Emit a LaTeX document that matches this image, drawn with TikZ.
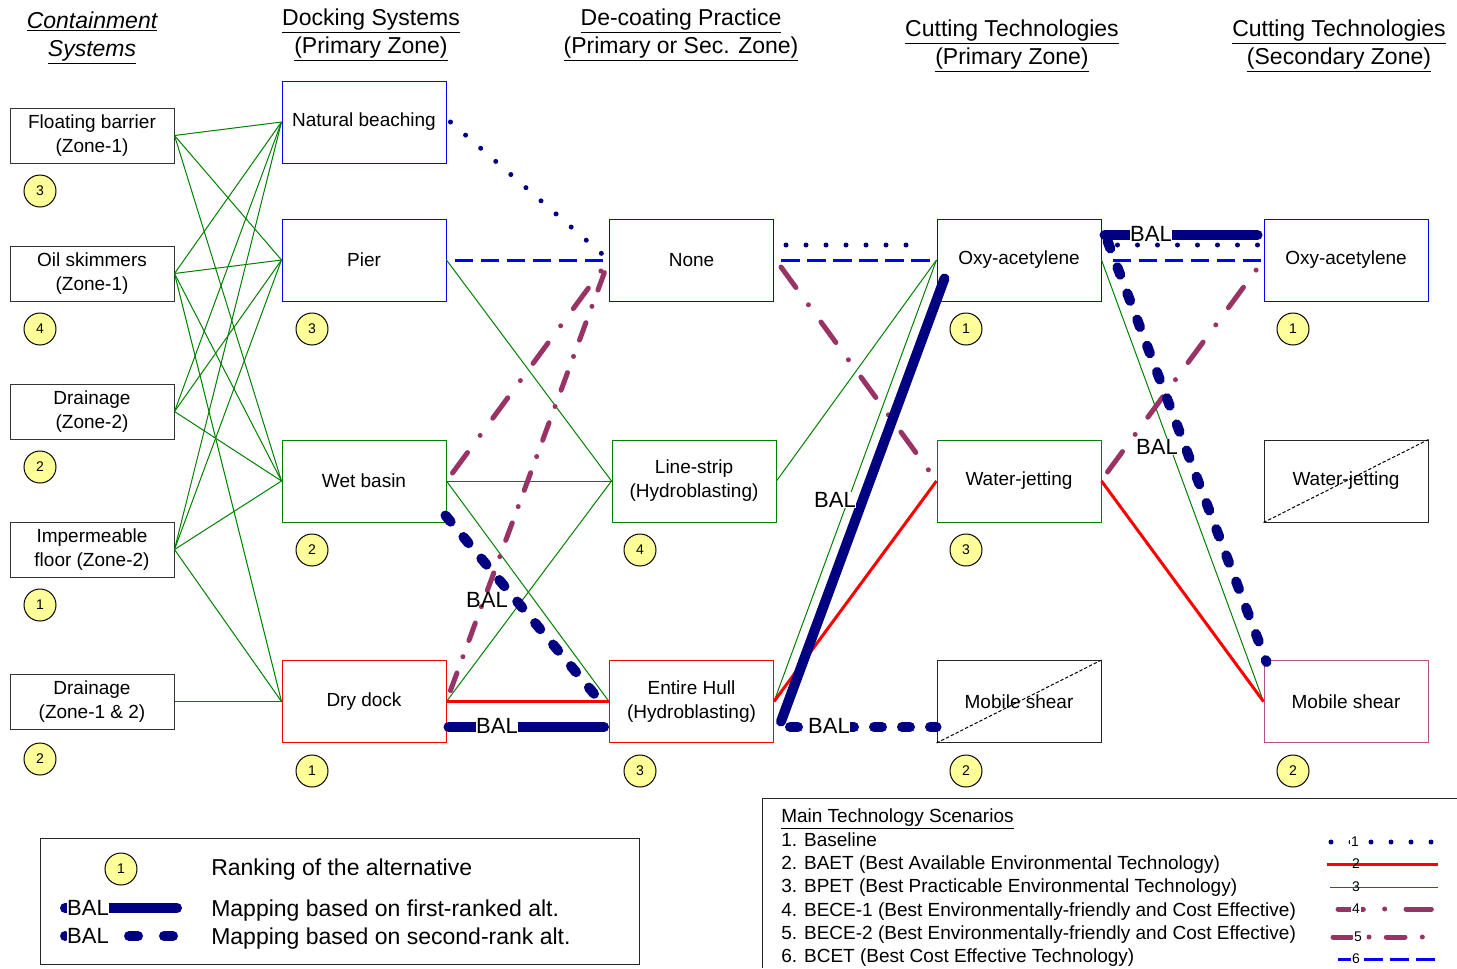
\documentclass[tikz,border=0pt]{standalone}
\usepackage{fontspec}
\setmainfont{Liberation Sans}
\usetikzlibrary{calc}
\definecolor{navyc}{HTML}{000080}
\definecolor{bluec}{HTML}{0000FF}
\definecolor{greenc}{HTML}{008000}
\definecolor{redc}{HTML}{FF0000}
\definecolor{magc}{HTML}{993366}
\definecolor{pinkc}{HTML}{B4508C}
\definecolor{rankc}{HTML}{FFFF99}
\begin{document}
\begin{tikzpicture}[x=0.75pt,y=-0.75pt,
  box/.style={draw, line width=0.75pt, minimum width=123pt, minimum height=61.5pt, align=center, inner sep=0pt, font=\fontsize{14.25}{18}\selectfont},
  cbox/.style={box, draw=black!80, minimum height=41.25pt},
  rank/.style={circle, draw=black, line width=0.75pt, fill=rankc, minimum size=24pt, inner sep=0pt, font=\fontsize{10.5}{12}\selectfont},
  head/.style={align=center, font=\fontsize{17.25}{21.5}\selectfont},
  s1/.style={navyc, line width=3.75pt, line cap=round, dash pattern=on 0pt off 15pt},
  s2/.style={redc, line width=2.25pt},
  s3/.style={greenc, line width=0.75pt},
  s4/.style={magc, line width=3.75pt, line cap=round, dash pattern=on 19pt off 16pt on 0pt off 16pt},
  s5/.style={magc, line width=3.75pt, line cap=round, dash pattern=on 14pt off 13pt on 0pt off 13pt},
  s6/.style={bluec, line width=2.25pt, dash pattern=on 14pt off 5.5pt},
  balone/.style={navyc, line width=7.5pt, line cap=round},
  baltwo/.style={navyc, line width=7.5pt, line cap=round, dash pattern=on 6pt off 15pt},
  ballab/.style={fill=white, inner sep=0.5pt, font=\fontsize{16.5}{18}\selectfont},
  cross/.style={black, line width=0.75pt, dash pattern=on 2.5pt off 1.5pt},
  legtxt/.style={anchor=base west, inner sep=0pt, font=\fontsize{14.25}{18}\selectfont},
  legbig/.style={anchor=base west, inner sep=0pt, font=\fontsize{17.25}{20}\selectfont},
  numlab/.style={fill=white, inner sep=0.6pt, font=\fontsize{10.5}{12}\selectfont}
]
\useasboundingbox (0,0) rectangle (1457,968);

% headers
\node[head] (h1) at (92,38) {\textit{\underline{Containment}}\\\textit{\underline{Systems}}};
\node[head] (h2) at (371,35) {\underline{Docking Systems}\\\underline{(Primary Zone)}};
\node[head] (h3) at (681,35) {\underline{De-coating Practice}\\\underline{(Primary or Sec. Zone)}};
\node[head] (h4) at (1012,46) {\underline{Cutting Technologies}\\\underline{(Primary Zone)}};
\node[head] (h5) at (1339,46) {\underline{Cutting Technologies}\\\underline{(Secondary Zone)}};

% column 1
\node[cbox] (FB) at (92,135.5) {Floating barrier\\(Zone-1)};
\node[cbox] (OS) at (92,273.5) {Oil skimmers\\(Zone-1)};
\node[cbox] (DrA) at (92,411.5) {Drainage\\(Zone-2)};
\node[cbox] (IF) at (92,549.5) {Impermeable\\floor (Zone-2)};
\node[cbox] (DrB) at (92,701.5) {Drainage\\(Zone-1 \& 2)};
% column 2
\node[box, draw=bluec] (NB) at (364,122) {Natural beaching};
\node[box, draw=bluec] (Pier) at (364,260) {Pier};
\node[box, draw=greenc] (WB) at (364,481) {Wet basin};
\node[box, draw=redc] (DD) at (364,701.5) {Dry dock};
% column 3
\node[box, draw=bluec] (None) at (691.5,260) {None};
\node[box, draw=greenc] (LS) at (694,481) {Line-strip\\(Hydroblasting)};
\node[box, draw=redc] (EH) at (691.5,701.5) {Entire Hull\\(Hydroblasting)};
% column 4
\node[box, draw=bluec] (OxyA) at (1019,260) {Oxy-acetylene};
\node[box, draw=greenc] (WJA) at (1019,481) {Water-jetting};
\node[box, draw=black!85] (MSA) at (1019,701.5) {Mobile shear};
% column 5
\node[box, draw=bluec] (OxyB) at (1346,260) {Oxy-acetylene};
\node[box, draw=black!85] (WJB) at (1346,481) {Water-jetting};
\node[box, draw=pinkc] (MSB) at (1346,701.5) {Mobile shear};

\draw[cross] (MSA.south west) -- (MSA.north east);
\draw[cross] (WJB.south west) -- (WJB.north east);

% rank circles
\node[rank] (rFB) at (40,191) {3};
\node[rank] (rOS) at (40,329) {4};
\node[rank] (rDrA) at (40,467) {2};
\node[rank] (rIF) at (40,605) {1};
\node[rank] (rDrB) at (40,759) {2};
\node[rank] (rPier) at (312,329) {3};
\node[rank] (rWB) at (312,550) {2};
\node[rank] (rDD) at (312,771) {1};
\node[rank] (rLS) at (640,550) {4};
\node[rank] (rEH) at (640,771) {3};
\node[rank] (rOxyA) at (966,329) {1};
\node[rank] (rWJA) at (966,550) {3};
\node[rank] (rMSA) at (966,771) {2};
\node[rank] (rOxyB) at (1293,329) {1};
\node[rank] (rMSB) at (1293,771) {2};

% containment -> docking (BPET)
\foreach \t in {NB,Pier,WB} \draw[s3] (FB.east) -- (\t.west);
\foreach \t in {NB,Pier,WB,DD} \draw[s3] (OS.east) -- (\t.west);
\foreach \t in {NB,Pier,WB} \draw[s3] (DrA.east) -- (\t.west);
\foreach \t in {NB,Pier,WB,DD} \draw[s3] (IF.east) -- (\t.west);
\draw[s3] (DrB.east) -- (DD.west);

% docking -> de-coating
\draw[s3] (Pier.east) -- (LS.west);
\draw[s3] (WB.east) -- (LS.west);
\draw[s3] (WB.east) -- (EH.west);
\draw[s3] (DD.east) -- (LS.west);
\draw[s2] (DD.east) -- (EH.west);
\draw[s1] ($(NB.east)+(4,0)$) -- (None.west);
\draw[s6] ($(Pier.east)+(8,0)$) -- (None.west);
\draw[s4] ($(WB.east)+(6,-8)$) -- (None.west);
\draw[s5] ($(DD.east)+(4,-11)$) -- (None.west);
\draw[baltwo] ($(WB.south east)+(-1,-7)$) -- ($(EH.west)+(-6,3)$);
\draw[balone] ($(DD.east)+(2,25.5)$) -- ($(EH.west)+(-5,25.5)$);
\node[ballab, fill=none] (balA) at (487,600) {BAL};
\node[ballab] (balB) at (497,726) {BAL};

% de-coating -> cutting primary
\draw[s3] (LS.east) -- (OxyA.west);
\draw[s3] (EH.east) -- (OxyA.west);
\draw[s2] (EH.east) -- (WJA.west);
\draw[s1] ($(None.east)+(12,-15)$) -- ($(OxyA.west)+(-22,-15)$);
\draw[s6] ($(None.east)+(7,0)$) -- (OxyA.west);
\draw[s4] ($(None.east)+(7,7)$) -- (WJA.west);
\draw[balone] ($(EH.east)+(7,20)$) -- ($(OxyA.south west)+(8,-23)$);
\draw[baltwo] ($(EH.east)+(16,25.5)$) -- ($(MSA.west)+(0,25.5)$);
\node[ballab] (balC) at (835,500) {BAL};
\node[ballab] (balD) at (829,726) {BAL};

% cutting primary -> secondary
\draw[s3] (OxyA.east) -- (MSB.west);
\draw[s2] (WJA.east) -- (MSB.west);
\draw[s1] ($(OxyA.east)+(16,-15)$) -- ($(OxyB.west)+(0,-15)$);
\draw[s6] ($(OxyA.east)+(11,0)$) -- (OxyB.west);
\draw[s4] ($(WJA.east)+(6,-9)$) -- (OxyB.west);
\draw[balone] ($(OxyA.east)+(3,-25)$) -- ($(OxyB.west)+(-6,-25)$);
\draw[baltwo] ($(OxyA.east)+(6,-19)$) -- ($(MSB.north west)+(3,2)$);
\node[ballab] (balE) at (1151,234) {BAL};
\node[ballab] (balF) at (1157,447) {BAL};

% legend left
\node[draw=black!85, line width=0.75pt, minimum width=449.25pt, minimum height=94.5pt, inner sep=0pt] (legL) at (339.5,901) {};
\node[rank] (rLeg) at (121,869) {1};
\node[legbig] (lt1) at (211,875) {Ranking of the alternative};
\node[legbig] (lt2) at (211,916) {Mapping based on first-ranked alt.};
\node[legbig] (lt3) at (211,944) {Mapping based on second-rank alt.};
\coordinate (la1) at (65,908);
\coordinate (lb1) at (177,908);
\coordinate (la2) at (65,936);
\coordinate (lb2) at (177,936);
\draw[balone] (la1) -- (lb1);
\draw[navyc, line width=7.5pt, line cap=round, dash pattern=on 0pt off 48pt on 6.75pt off 19.5pt on 6.75pt off 30pt] (la2) -- (lb2);
\node[ballab] (lbal1) at (88,908) {BAL};
\node[ballab] (lbal2) at (88,936) {BAL};

% legend right
\coordinate (rtA) at (762,968);
\coordinate (rtB) at (762,798);
\coordinate (rtC) at (1457,798);
\draw[black!85, line width=0.75pt] (rtA) -- (rtB) -- (rtC);
\node[legtxt] (m0) at (781,822) {\underline{Main Technology Scenarios}};
\node[legtxt] (m1) at (781,846) {1. Baseline};
\node[legtxt] (m2) at (781,869) {2. BAET (Best Available Environmental Technology)};
\node[legtxt] (m3) at (781,892) {3. BPET (Best Practicable Environmental Technology)};
\node[legtxt] (m4) at (781,916) {4. BECE-1 (Best Environmentally-friendly and Cost Effective)};
\node[legtxt] (m5) at (781,939) {5. BECE-2 (Best Environmentally-friendly and Cost Effective)};
\node[legtxt] (m6) at (781,962) {6. BCET (Best Cost Effective Technology)};
\coordinate (sa1) at (1331,842); \coordinate (sb1) at (1438,842);
\coordinate (sa2) at (1327,864); \coordinate (sb2) at (1438,864);
\coordinate (sa3) at (1330,887); \coordinate (sb3) at (1438,887);
\coordinate (sa4) at (1338,909); \coordinate (sb4) at (1437,909);
\coordinate (sa5) at (1333,937); \coordinate (sb5) at (1437,937);
\coordinate (sa6) at (1338,959); \coordinate (sb6) at (1438,959);
\draw[s1] (sa1) -- (sb1);
\draw[s2] (sa2) -- (sb2);
\draw[s3] (sa3) -- (sb3);
\draw[s4] (sa4) -- (sb4);
\draw[s5] (sa5) -- (sb5);
\draw[s6] (sa6) -- (sb6);
\node[numlab] (n1) at (1355,842) {1};
\node[numlab, fill=none] (n2) at (1356,864) {2};
\node[numlab, fill=none] (n3) at (1356,887) {3};
\node[numlab] (n4) at (1356,909) {4};
\node[numlab] (n5) at (1358,937) {5};
\node[numlab] (n6) at (1356,959) {6};
\end{tikzpicture}
\end{document}
